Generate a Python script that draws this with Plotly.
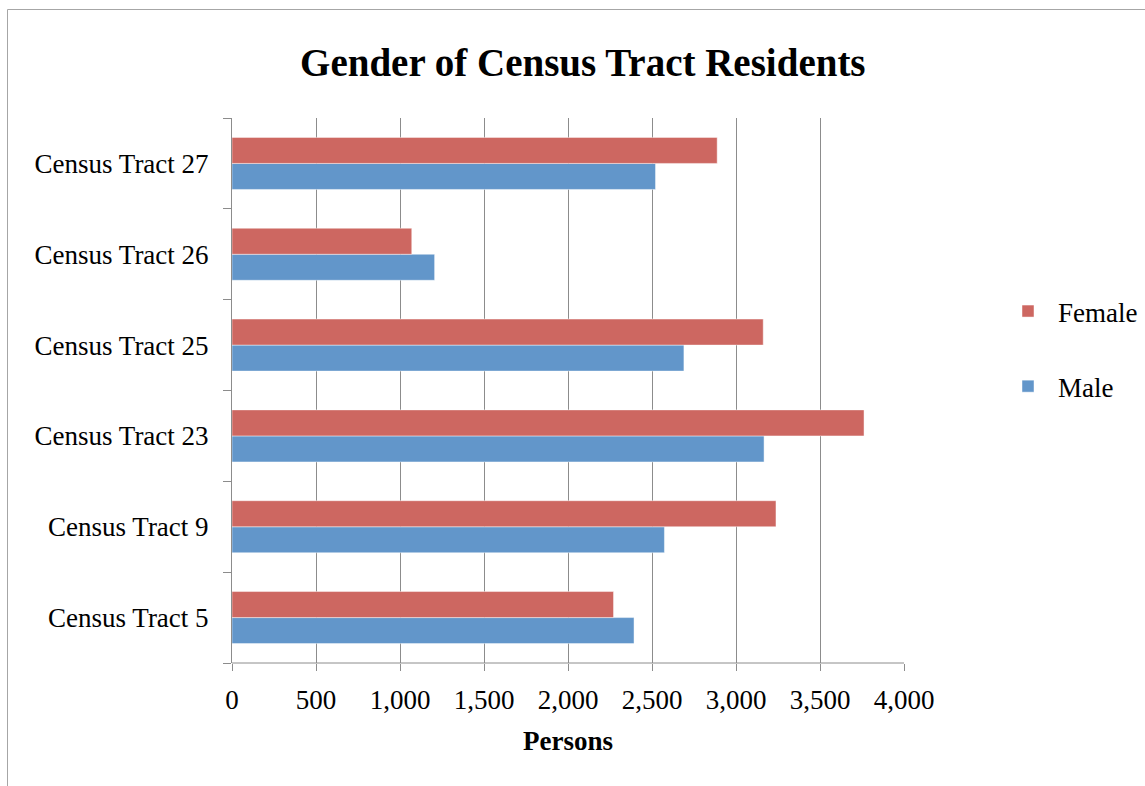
import plotly.graph_objects as go

# Census tracts listed bottom-to-top as they appear on the category axis
tracts = ["Census Tract 5", "Census Tract 9", "Census Tract 23",
          "Census Tract 25", "Census Tract 26", "Census Tract 27"]
male = [2393, 2574, 3167, 2690, 1206, 2521]
female = [2271, 3238, 3762, 3162, 1070, 2888]

x_ticks = [0, 500, 1000, 1500, 2000, 2500, 3000, 3500, 4000]

FONT = "Liberation Serif"
FS = 27
MALE_COLOR = "#6296CA"
FEMALE_COLOR = "#CD6761"
GRID = "#8C8C8C"

W, H = 1145, 786
L, R, T, B = 232, 241, 118, 123
pw, ph = W - L - R, H - T - B


def px_x(p):
    return (p - L) / pw


def px_y(p):
    return (H - B - p) / ph


fig = go.Figure()
fig.add_trace(go.Bar(
    y=tracts, x=male, name="Male", orientation="h",
    marker=dict(color=MALE_COLOR, line=dict(color="rgba(255,255,255,0.45)", width=1)),
    legendgroup="m", legendrank=2,
))
fig.add_trace(go.Bar(
    y=tracts, x=female, name="Female", orientation="h",
    marker=dict(color=FEMALE_COLOR, line=dict(color="rgba(255,255,255,0.45)", width=1)),
    legendgroup="f", legendrank=1,
))

fig.update_layout(
    width=W, height=H,
    margin=dict(l=L, r=R, t=T, b=B, autoexpand=False),
    paper_bgcolor="white", plot_bgcolor="white",
    font=dict(family=FONT, size=FS, color="black"),
    barmode="group", bargap=0.427, bargroupgap=0,
    title=dict(text="<b>Gender of Census Tract Residents</b>",
               x=0.509, xref="container", xanchor="center",
               y=1 - 62 / H, yref="container", yanchor="middle",
               font=dict(family=FONT, size=39)),
    showlegend=True,
    legend=dict(x=px_x(998), xanchor="left", y=px_y(287), yanchor="top",
                traceorder="grouped", tracegroupgap=37,
                font=dict(size=FS), itemwidth=50,
                bgcolor="rgba(0,0,0,0)"),
    xaxis=dict(range=[0, 4000], tickvals=x_ticks, tickformat=",",
               showgrid=True, gridcolor=GRID, gridwidth=1,
               zeroline=False, showline=False,
               ticks="outside", ticklen=7, tickcolor=GRID,
               tickfont=dict(size=FS), ticklabelstandoff=6,
               title=dict(text="<b>Persons</b>", font=dict(size=FS), standoff=16)),
    yaxis=dict(type="category", showgrid=False, showline=True, linecolor=GRID,
               ticks="outside", tickson="boundaries", ticklen=8, tickcolor=GRID,
               tickfont=dict(size=FS), ticklabelstandoff=17,
               zeroline=False),
)

# bottom baseline of the plot area
fig.add_shape(type="line", xref="paper", yref="paper",
              x0=0, x1=1, y0=0, y1=0, line=dict(color=GRID, width=1))

# chart frame
fig.add_shape(type="rect", xref="paper", yref="paper",
              x0=px_x(7.5), x1=px_x(1160), y0=px_y(800), y1=px_y(9.5),
              line=dict(color="#A6A6A6", width=1), fillcolor="rgba(0,0,0,0)",
              layer="below")

fig.write_html("out.html")
